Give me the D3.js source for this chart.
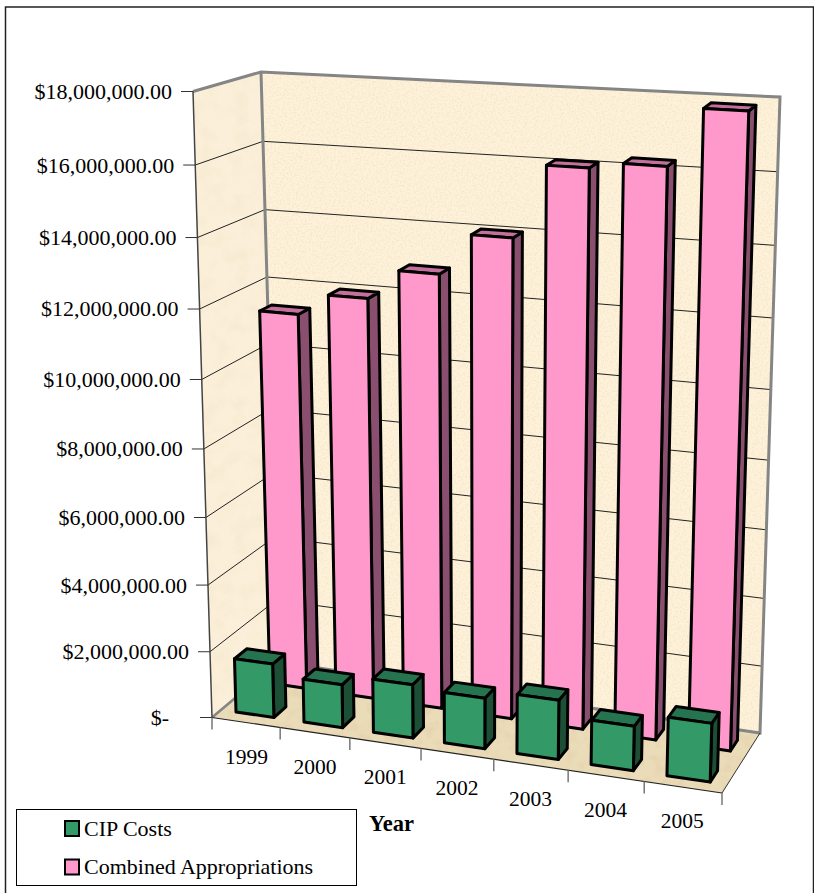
<!DOCTYPE html>
<html><head><meta charset="utf-8">
<script src="https://cdn.jsdelivr.net/npm/d3@7"></script>
<style>html,body{margin:0;padding:0;background:#fff}svg{display:block}text{font-family:"Liberation Serif","Times New Roman",serif;fill:#000}</style>
</head><body><svg id="c" width="814" height="893"></svg>
<script>
const years = ["1999","2000","2001","2002","2003","2004","2005"];
const cipCosts = [1630000,1300000,1600000,1500000,1750000,1300000,1700000];
const combinedAppropriations = [11360000,12000000,12870000,14050000,16120000,16300000,17900000];
const axisTicks = [0,2e6,4e6,6e6,8e6,1e7,1.2e7,1.4e7,1.6e7,1.8e7];
const legendNames = ["CIP Costs","Combined Appropriations"];

const svg = d3.select("#c");

// Plot box corners in screen space; the projection blends between them.
const box = {
  fl0:[212,717.5], fl1:[193,91.5], fr0:[722,793], fr1:[741,130],
  bl0:[278,662], bl1:[261,72], br0:[760,733], br1:[780,97]
};
// Foreshortening: nearer ends of the box appear larger.
const warp = k => t => t/(k+(1-k)*t);
const warpU = warp(1.08), warpV = warp(1.065);

const uScale = d3.scaleLinear().domain([0,years.length]).range([0,1]);
const vScale = d3.scaleLinear().domain([0,18e6]).range([0,1]);
const lerp = (a,b,t)=>[a[0]+(b[0]-a[0])*t,a[1]+(b[1]-a[1])*t];
function proj(cat,val,depth){
  const u=warpU(uScale(cat)), v=warpV(vScale(val));
  const f0=lerp(box.fl0,box.fr0,u), f1=lerp(box.fl1,box.fr1,u);
  const b0=lerp(box.bl0,box.br0,u), b1=lerp(box.bl1,box.br1,u);
  return lerp(lerp(f0,f1,v),lerp(b0,b1,v),depth);
}
const pts = a => a.map(p=>p.join(",")).join(" ");

const defs = svg.append("defs");
function paper(id,seed,freq,amp){
  const f=defs.append("filter").attr("id",id).attr("x",0).attr("y",0).attr("width","100%").attr("height","100%");
  f.append("feTurbulence").attr("type","fractalNoise").attr("baseFrequency",freq).attr("numOctaves",3).attr("seed",seed).attr("result","n");
  f.append("feColorMatrix").attr("in","n").attr("type","matrix")
    .attr("values",`0 0 0 0 0.72  0 0 0 0 0.58  0 0 0 0 0.35  ${amp} 0 0 0 ${-amp*0.42}`).attr("result","t");
  f.append("feComposite").attr("in","t").attr("in2","SourceAlpha").attr("operator","in");
}
paper("wallGrain",3,0.55,0.7);
paper("sideGrain",5,0.06,0.3);
paper("floorGrain",8,0.09,1.2);

// Page frame
svg.append("path").attr("d","M5.5,893V7H813.5V893").attr("fill","none").attr("stroke","#222").attr("stroke-width",1.5);

// Walls and floor
const side=[box.fl0,box.fl1,box.bl1,box.bl0], back=[box.bl0,box.bl1,box.br1,box.br0], floor=[box.fl0,box.bl0,box.br0,box.fr0];
function panel(p,fill,grain){
  svg.append("polygon").attr("points",pts(p)).attr("fill",fill);
  svg.append("polygon").attr("points",pts(p)).attr("fill","#000").attr("filter",`url(#${grain})`);
}
panel(side,"#fbefd9","sideGrain");
panel(back,"#fef2da","wallGrain");
panel(floor,"#ebdcb9","floorGrain");

// Gridlines across the side and back walls
axisTicks.slice(1,-1).forEach(t=>{
  svg.append("polyline").attr("points",pts([proj(0,t,0),proj(0,t,1),proj(years.length,t,1)]))
    .attr("fill","none").attr("stroke","#222").attr("stroke-width",1);
});
// Wall edges
svg.append("polyline").attr("points",pts([box.fl1,box.bl1,box.br1,box.br0,box.bl0,box.bl1])).attr("fill","none").attr("stroke","#858585").attr("stroke-width",3);
svg.append("line").attr("x1",box.fl0[0]).attr("y1",box.fl0[1]).attr("x2",box.bl0[0]).attr("y2",box.bl0[1]).attr("stroke","#858585").attr("stroke-width",2.5);
svg.append("line").attr("x1",box.fr0[0]).attr("y1",box.fr0[1]).attr("x2",box.br0[0]).attr("y2",box.br0[1]).attr("stroke","#333").attr("stroke-width",1);

// Value axis with ticks
svg.append("line").attr("x1",box.fl0[0]).attr("y1",box.fl0[1]).attr("x2",box.fl1[0]).attr("y2",box.fl1[1]).attr("stroke","#444").attr("stroke-width",1.5);
const moneyFmt = d3.format("$,.2f");
axisTicks.forEach(t=>{
  const p=proj(0,t,0);
  svg.append("line").attr("x1",p[0]-12).attr("x2",p[0]).attr("y1",p[1]).attr("y2",p[1]).attr("stroke","#333").attr("stroke-width",1);
  svg.append("text").attr("x",p[0]-(t===0?43:21)).attr("y",p[1]).attr("dy","0.34em").attr("text-anchor","end")
    .style("font-size","22px").text(t===0?"$-":moneyFmt(t));
});

// Category axis along the floor's front edge
svg.append("line").attr("x1",box.fl0[0]).attr("y1",box.fl0[1]).attr("x2",box.fr0[0]).attr("y2",box.fr0[1]).attr("stroke","#222").attr("stroke-width",1.2);
d3.range(years.length+1).forEach(i=>{
  const p=proj(i,0,0);
  svg.append("line").attr("x1",p[0]).attr("x2",p[0]).attr("y1",p[1]).attr("y2",p[1]+12).attr("stroke","#777").attr("stroke-width",1.5);
});
years.forEach((y,i)=>{
  const p=proj(i+0.5,0,0);
  svg.append("text").attr("x",p[0]-(i*0.2+ -0.5)).attr("y",p[1]+41).attr("text-anchor","middle").style("font-size","21.5px").text(y);
});

// Bars as three visible faces: front, right side, top
const barU=[0.22,0.78];
function bar(i,val,d0,d1,c){
  const L=i+barU[0],R=i+barU[1];
  const g=svg.append("g").attr("stroke","#000").attr("stroke-width",3).attr("stroke-linejoin","round");
  g.append("polygon").attr("fill",c.side).attr("points",pts([proj(R,0,d0),proj(R,0,d1),proj(R,val,d1),proj(R,val,d0)]));
  g.append("polygon").attr("fill",c.top).attr("points",pts([proj(L,val,d0),proj(R,val,d0),proj(R,val,d1),proj(L,val,d1)]));
  g.append("polygon").attr("fill",c.front).attr("points",pts([proj(L,0,d0),proj(R,0,d0),proj(R,val,d0),proj(L,val,d0)]));
}
const pink={front:"#ff99cc",side:"#8a4f6e",top:"#c4709c"}, green={front:"#339966",side:"#1c4f36",top:"#267350"};
d3.range(years.length).reverse().forEach(i=>bar(i,combinedAppropriations[i],0.66,0.84,pink));
d3.range(years.length).reverse().forEach(i=>bar(i,cipCosts[i],0.14,0.33,green));

// Axis title and legend
svg.append("text").attr("x",369).attr("y",831).style("font-size","22.5px").style("font-weight","bold").text("Year");
svg.append("rect").attr("x",16.5).attr("y",809.5).attr("width",340).attr("height",76).attr("fill","#fff").attr("stroke","#000").attr("stroke-width",1);
legendNames.forEach((n,i)=>{
  const y=828.5+i*38.5;
  svg.append("rect").attr("x",65).attr("y",y-7.5).attr("width",14).attr("height",15).attr("fill",[green,pink][i].front).attr("stroke","#000").attr("stroke-width",2);
  svg.append("text").attr("x",84).attr("y",y).attr("dy","0.34em").style("font-size","22px").text(n);
});
</script></body></html>
